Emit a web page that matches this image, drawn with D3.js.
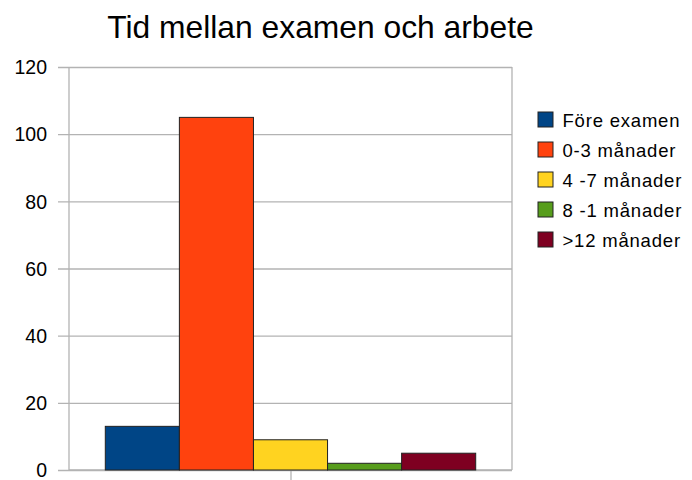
<!DOCTYPE html>
<html>
<head>
<meta charset="utf-8">
<script src="https://cdn.jsdelivr.net/npm/d3@7"></script>
<style>
  body { margin: 0; background: #fff; }
  text { font-family: "Liberation Sans", Arial, sans-serif; fill: #000; }
</style>
</head>
<body>
<script>
// data
let series = ["Före examen", "0-3 månader", "4 -7 månader", "8 -1 månader", ">12 månader"];
let values = [13, 105, 9, 2, 5];
let colors = ["#004586", "#ff420e", "#ffd320", "#579d1c", "#7e0021"];
let yTicks = [0, 20, 40, 60, 80, 100, 120];

let width = 692, height = 480;
let plotLeft = 69, plotRight = 512, plotTop = 67, plotBottom = 470;

let svg = d3.select("body").append("svg")
    .attr("width", width)
    .attr("height", height);

let y = d3.scaleLinear().domain([0, 120]).range([plotBottom, plotTop]);
// one category, bars side by side
let x0 = d3.scaleBand().domain(["g"]).range([plotLeft, plotRight]).paddingOuter(0.098);
let x1 = d3.scaleBand().domain(series).range([x0("g"), x0("g") + x0.bandwidth()]);

// gridlines
svg.append("g")
    .attr("transform", `translate(${plotLeft},0)`)
    .call(d3.axisLeft(y).tickValues(yTicks).tickSize(-(plotRight - plotLeft)).tickPadding(10).tickFormat(d3.format("d")))
    .call(g => g.select(".domain").remove())
    .call(g => g.selectAll("line").attr("stroke", "#b3b3b3").attr("stroke-width", 1.3).attr("x1", -11))
    .call(g => g.selectAll("text").style("font-size", "19.5px").attr("dy", "0.35em").attr("x", -22));

// plot frame
svg.append("line").attr("x1", plotLeft).attr("x2", plotLeft).attr("y1", plotTop).attr("y2", plotBottom)
    .attr("stroke", "#b3b3b3").attr("stroke-width", 1.3);
svg.append("line").attr("x1", plotRight).attr("x2", plotRight).attr("y1", plotTop).attr("y2", plotBottom)
    .attr("stroke", "#b3b3b3").attr("stroke-width", 1.3);

// x axis tick
svg.append("g")
    .attr("transform", `translate(0,${plotBottom})`)
    .call(d3.axisBottom(d3.scalePoint().domain(["g"]).range([plotLeft, plotRight]).padding(0.5)).tickSize(10).tickFormat(""))
    .call(g => g.selectAll("line").attr("stroke", "#b3b3b3").attr("stroke-width", 1.3))
    .call(g => g.select(".domain").attr("stroke", "#b3b3b3").attr("stroke-width", 1.3).attr("d", `M${plotLeft},0H${plotRight}`));

// bars
svg.selectAll("rect.bar")
    .data(values)
    .enter()
    .append("rect")
    .attr("class", "bar")
    .attr("x", (d, i) => x1(series[i]))
    .attr("y", d => y(d))
    .attr("width", x1.bandwidth())
    .attr("height", d => plotBottom - y(d))
    .attr("fill", (d, i) => colors[i])
    .attr("stroke", "#222")
    .attr("stroke-width", 1);

// title
svg.append("text")
    .attr("x", 320.5)
    .attr("y", 38)
    .attr("text-anchor", "middle")
    .style("font-size", "31.8px")
    .text("Tid mellan examen och arbete");

// legend
let legend = svg.append("g");
let rows = legend.selectAll("g")
    .data(series)
    .enter()
    .append("g")
    .attr("transform", (d, i) => `translate(538,${112 + i * 30})`);
rows.append("rect")
    .attr("width", 15)
    .attr("height", 15)
    .attr("fill", (d, i) => colors[i])
    .attr("stroke", "#222")
    .attr("stroke-width", 1);
rows.append("text")
    .attr("x", 24.5)
    .attr("y", 14.5)
    .style("font-size", "18.5px")
    .style("letter-spacing", "0.8px")
    .text(d => d);
</script>
</body>
</html>
